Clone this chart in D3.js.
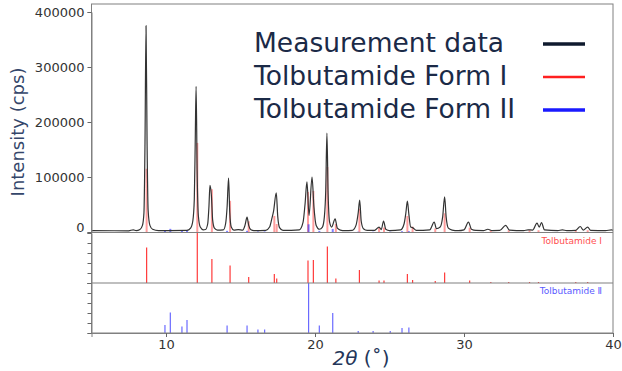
<!DOCTYPE html>
<html>
<head>
<meta charset="utf-8">
<script src="https://cdn.jsdelivr.net/npm/d3@7"></script>
<style>
  body { margin: 0; background: #fff; }
  svg { display: block; font-family: "DejaVu Sans", Verdana, sans-serif; }
</style>
</head>
<body>
<div id="chart"></div>
<script>
const measured = [
  [5.0, 2500], [7.5, 2200], [7.8, 4000], [8.0, 2500], [8.25, 4500], [8.42, 12000], [8.52, 35000],
  [8.59, 160000], [8.66, 375000], [8.73, 160000], [8.8, 40000], [8.92, 12000], [9.1, 5000], [9.5, 2500],
  [11.4, 2800], [11.65, 7000], [11.8, 20000], [11.9, 60000], [11.96, 160000], [12.02, 265000],
  [12.09, 110000], [12.17, 30000], [12.3, 9000], [12.5, 4000],
  [12.65, 4500], [12.8, 15000], [12.88, 45000], [12.95, 85000], [13.05, 65000], [13.13, 22000],
  [13.25, 7000], [13.45, 3500],
  [13.85, 4000], [14.0, 15000], [14.1, 45000], [14.2, 98000], [14.28, 35000], [14.38, 9000], [14.55, 3500],
  [14.85, 4500], [15.15, 3500], [15.3, 12000], [15.44, 27000], [15.55, 12000], [15.7, 4000], [15.9, 2500],
  [16.7, 3000], [16.95, 9000], [17.1, 24000], [17.22, 38000], [17.4, 71000], [17.5, 28000],
  [17.62, 8000], [17.85, 3000],
  [18.95, 4000], [19.2, 18000], [19.33, 50000], [19.46, 91000], [19.6, 30000], [19.8, 100000],
  [19.93, 45000], [20.08, 12000], [20.3, 5000], [20.5, 9000], [20.63, 28000], [20.72, 75000],
  [20.8, 180000], [20.88, 70000], [20.98, 18000], [21.12, 9000], [21.35, 24000], [21.5, 7000],
  [21.7, 3500], [22.0, 2500],
  [22.5, 3000], [22.75, 12000], [22.9, 35000], [23.0, 58000], [23.1, 20000], [23.25, 6000], [23.5, 3000],
  [24.0, 3000], [24.3, 9000], [24.45, 4500], [24.6, 20000], [24.75, 5000], [25.0, 2500],
  [25.75, 4000], [25.98, 15000], [26.1, 35000], [26.2, 56000], [26.3, 32000], [26.42, 9000],
  [26.55, 8000], [26.8, 3000],
  [27.7, 4000], [28.0, 18000], [28.15, 6000], [28.4, 9000], [28.57, 28000], [28.7, 64000],
  [28.8, 28000], [28.95, 7000], [29.2, 3500], [29.6, 2500],
  [30.0, 4000], [30.3, 18000], [30.5, 5000], [30.8, 2800], [31.3, 2500], [31.6, 5000], [31.9, 2500],
  [32.4, 2800], [32.8, 12000], [33.05, 3500],
  [34.0, 2500], [34.3, 4000], [34.6, 3500], [34.9, 16000], [35.05, 9000], [35.2, 17000],
  [35.4, 4000], [36.3, 2500], [36.6, 4000], [36.9, 2500], [37.5, 3000], [37.8, 10000],
  [38.0, 3500], [38.3, 9000], [38.5, 3000], [39.5, 2500], [39.9, 4000], [40.0, 3000]
];

// reference patterns: [2theta, relative intensity]
const formI = [
  [8.7, 0.71], [12.1, 1.0], [13.08, 0.48], [14.3, 0.35], [15.55, 0.12], [17.27, 0.18],
  [17.43, 0.09], [19.53, 0.45], [19.89, 0.46], [20.83, 0.73], [21.4, 0.09], [22.98, 0.26],
  [24.3, 0.05], [24.63, 0.05], [26.2, 0.18], [26.55, 0.06], [28.07, 0.04], [28.7, 0.21],
  [30.38, 0.05], [31.8, 0.02], [33.0, 0.02], [34.4, 0.02], [35.0, 0.02], [37.5, 0.02], [38.3, 0.02]
];
const formII = [
  [9.93, 0.16], [10.29, 0.41], [11.07, 0.13], [11.41, 0.26], [14.1, 0.15], [15.44, 0.15],
  [16.17, 0.07], [16.62, 0.07], [19.57, 1.0], [20.29, 0.15], [21.19, 0.40], [22.9, 0.04],
  [23.9, 0.04], [25.05, 0.04], [25.84, 0.1], [26.3, 0.11]
];

const yTicks = [0, 100000, 200000, 300000, 400000];
const xTicks = [10, 20, 30, 40];
const legendItems = [
  { label: 'Measurement data', color: '#0f1a2e', width: 3.5 },
  { label: 'Tolbutamide Form I', color: '#ff2020', width: 2.5 },
  { label: 'Tolbutamide Form II', color: '#1a1aff', width: 3.5 }
];

const W = 622, H = 371;
const svg = d3.select('#chart').append('svg').attr('width', W).attr('height', H);

const left = 91.5, right = 613;
const x = d3.scaleLinear().domain([5, 40]).range([left, right]);
const yTop = d3.scaleLinear().domain([0, 400000]).range([232, 12]);
const yMid = d3.scaleLinear().domain([0, 1]).range([283, 233]);
const yBot = d3.scaleLinear().domain([0, 1]).range([333, 283]);
// overlay heights in the main panel
const ovI = d3.scaleLinear().domain([0, 1]).range([0, 162000]);
const ovII = d3.scaleLinear().domain([0, 1]).range([0, 14000]);

const frame = '#808080';

// overlays in main panel
svg.append('g').selectAll('line').data(formI).join('line')
  .attr('x1', d => x(d[0])).attr('x2', d => x(d[0]))
  .attr('y1', yTop(0)).attr('y2', d => yTop(ovI(d[1])))
  .attr('stroke', 'rgba(255,40,40,0.45)').attr('stroke-width', 2);
svg.append('g').selectAll('line').data(formII).join('line')
  .attr('x1', d => x(d[0])).attr('x2', d => x(d[0]))
  .attr('y1', yTop(0)).attr('y2', d => yTop(ovII(d[1])))
  .attr('stroke', 'rgba(40,40,255,0.6)').attr('stroke-width', 2);

// measured profile
svg.append('path').datum(measured)
  .attr('d', d3.line().x(d => x(d[0])).y(d => yTop(d[1])).curve(d3.curveMonotoneX))
  .attr('fill', 'none').attr('stroke', '#333').attr('stroke-width', 1.2);

// reference stick panels
svg.append('g').selectAll('line').data(formI).join('line')
  .attr('x1', d => x(d[0])).attr('x2', d => x(d[0]))
  .attr('y1', yMid(0)).attr('y2', d => yMid(d[1]))
  .attr('stroke', '#ff3a3a').attr('stroke-width', 1.2);
svg.append('g').selectAll('line').data(formII).join('line')
  .attr('x1', d => x(d[0])).attr('x2', d => x(d[0]))
  .attr('y1', yBot(0)).attr('y2', d => yBot(d[1]))
  .attr('stroke', '#6a6aff').attr('stroke-width', 1.2);

// frames
svg.append('rect').attr('x', left).attr('y', 4).attr('width', right - left).attr('height', 329)
  .attr('fill', 'none').attr('stroke', frame).attr('stroke-width', 1);
[232.5, 283].forEach(v => {
  svg.append('line').attr('x1', left).attr('x2', right).attr('y1', v).attr('y2', v)
    .attr('stroke', frame).attr('stroke-width', 1.2);
});

// axes
const axTop = svg.append('g').attr('transform', `translate(${left},0)`)
  .call(d3.axisLeft(yTop).tickValues(yTicks).tickSize(4).tickFormat(d3.format('d')));
axTop.selectAll('text').filter(d => d === 0).attr('dy', '-0.05em');
svg.append('g').attr('transform', `translate(${left},0)`)
  .call(d3.axisLeft(yMid).ticks(5).tickSize(4).tickFormat(''));
svg.append('g').attr('transform', `translate(${left},0)`)
  .call(d3.axisLeft(yBot).ticks(5).tickSize(4).tickFormat(''));
svg.append('g').attr('transform', 'translate(0,333)')
  .call(d3.axisBottom(x).tickValues(xTicks).tickSize(4).tickPadding(3));

svg.selectAll('.domain').attr('stroke', frame);
svg.selectAll('.tick line').attr('stroke', '#666');
svg.selectAll('.tick text').attr('font-size', 13).attr('fill', '#333')
  .attr('font-family', '"DejaVu Sans", Verdana, sans-serif');

// axis titles
svg.append('text').attr('transform', 'translate(24,132) rotate(-90)')
  .attr('text-anchor', 'middle').attr('font-size', 18).attr('fill', '#34466a')
  .text('Intensity (cps)');
const xt = svg.append('text').attr('x', 361).attr('y', 365).attr('text-anchor', 'middle')
  .attr('font-size', 20).attr('fill', '#24365a');
xt.append('tspan').attr('font-style', 'italic').text('2θ');
xt.append('tspan').text(' (˚)');

// panel captions
svg.append('text').attr('x', 602).attr('y', 244).attr('text-anchor', 'end')
  .attr('font-size', 9).attr('fill', '#ff5050').text('Tolbutamide Ⅰ');
svg.append('text').attr('x', 602).attr('y', 294).attr('text-anchor', 'end')
  .attr('font-size', 9).attr('fill', '#5a5aff').text('Tolbutamide Ⅱ');

// legend
const lg = svg.append('g');
legendItems.forEach((d, i) => {
  const yy = 52 + i * 33;
  lg.append('text').attr('x', 254).attr('y', yy).attr('font-size', 26.5)
    .attr('fill', '#1b2a47').text(d.label);
  lg.append('line').attr('x1', 543).attr('x2', 585).attr('y1', yy - 8).attr('y2', yy - 8)
    .attr('stroke', d.color).attr('stroke-width', d.width);
});
</script>
</body>
</html>
